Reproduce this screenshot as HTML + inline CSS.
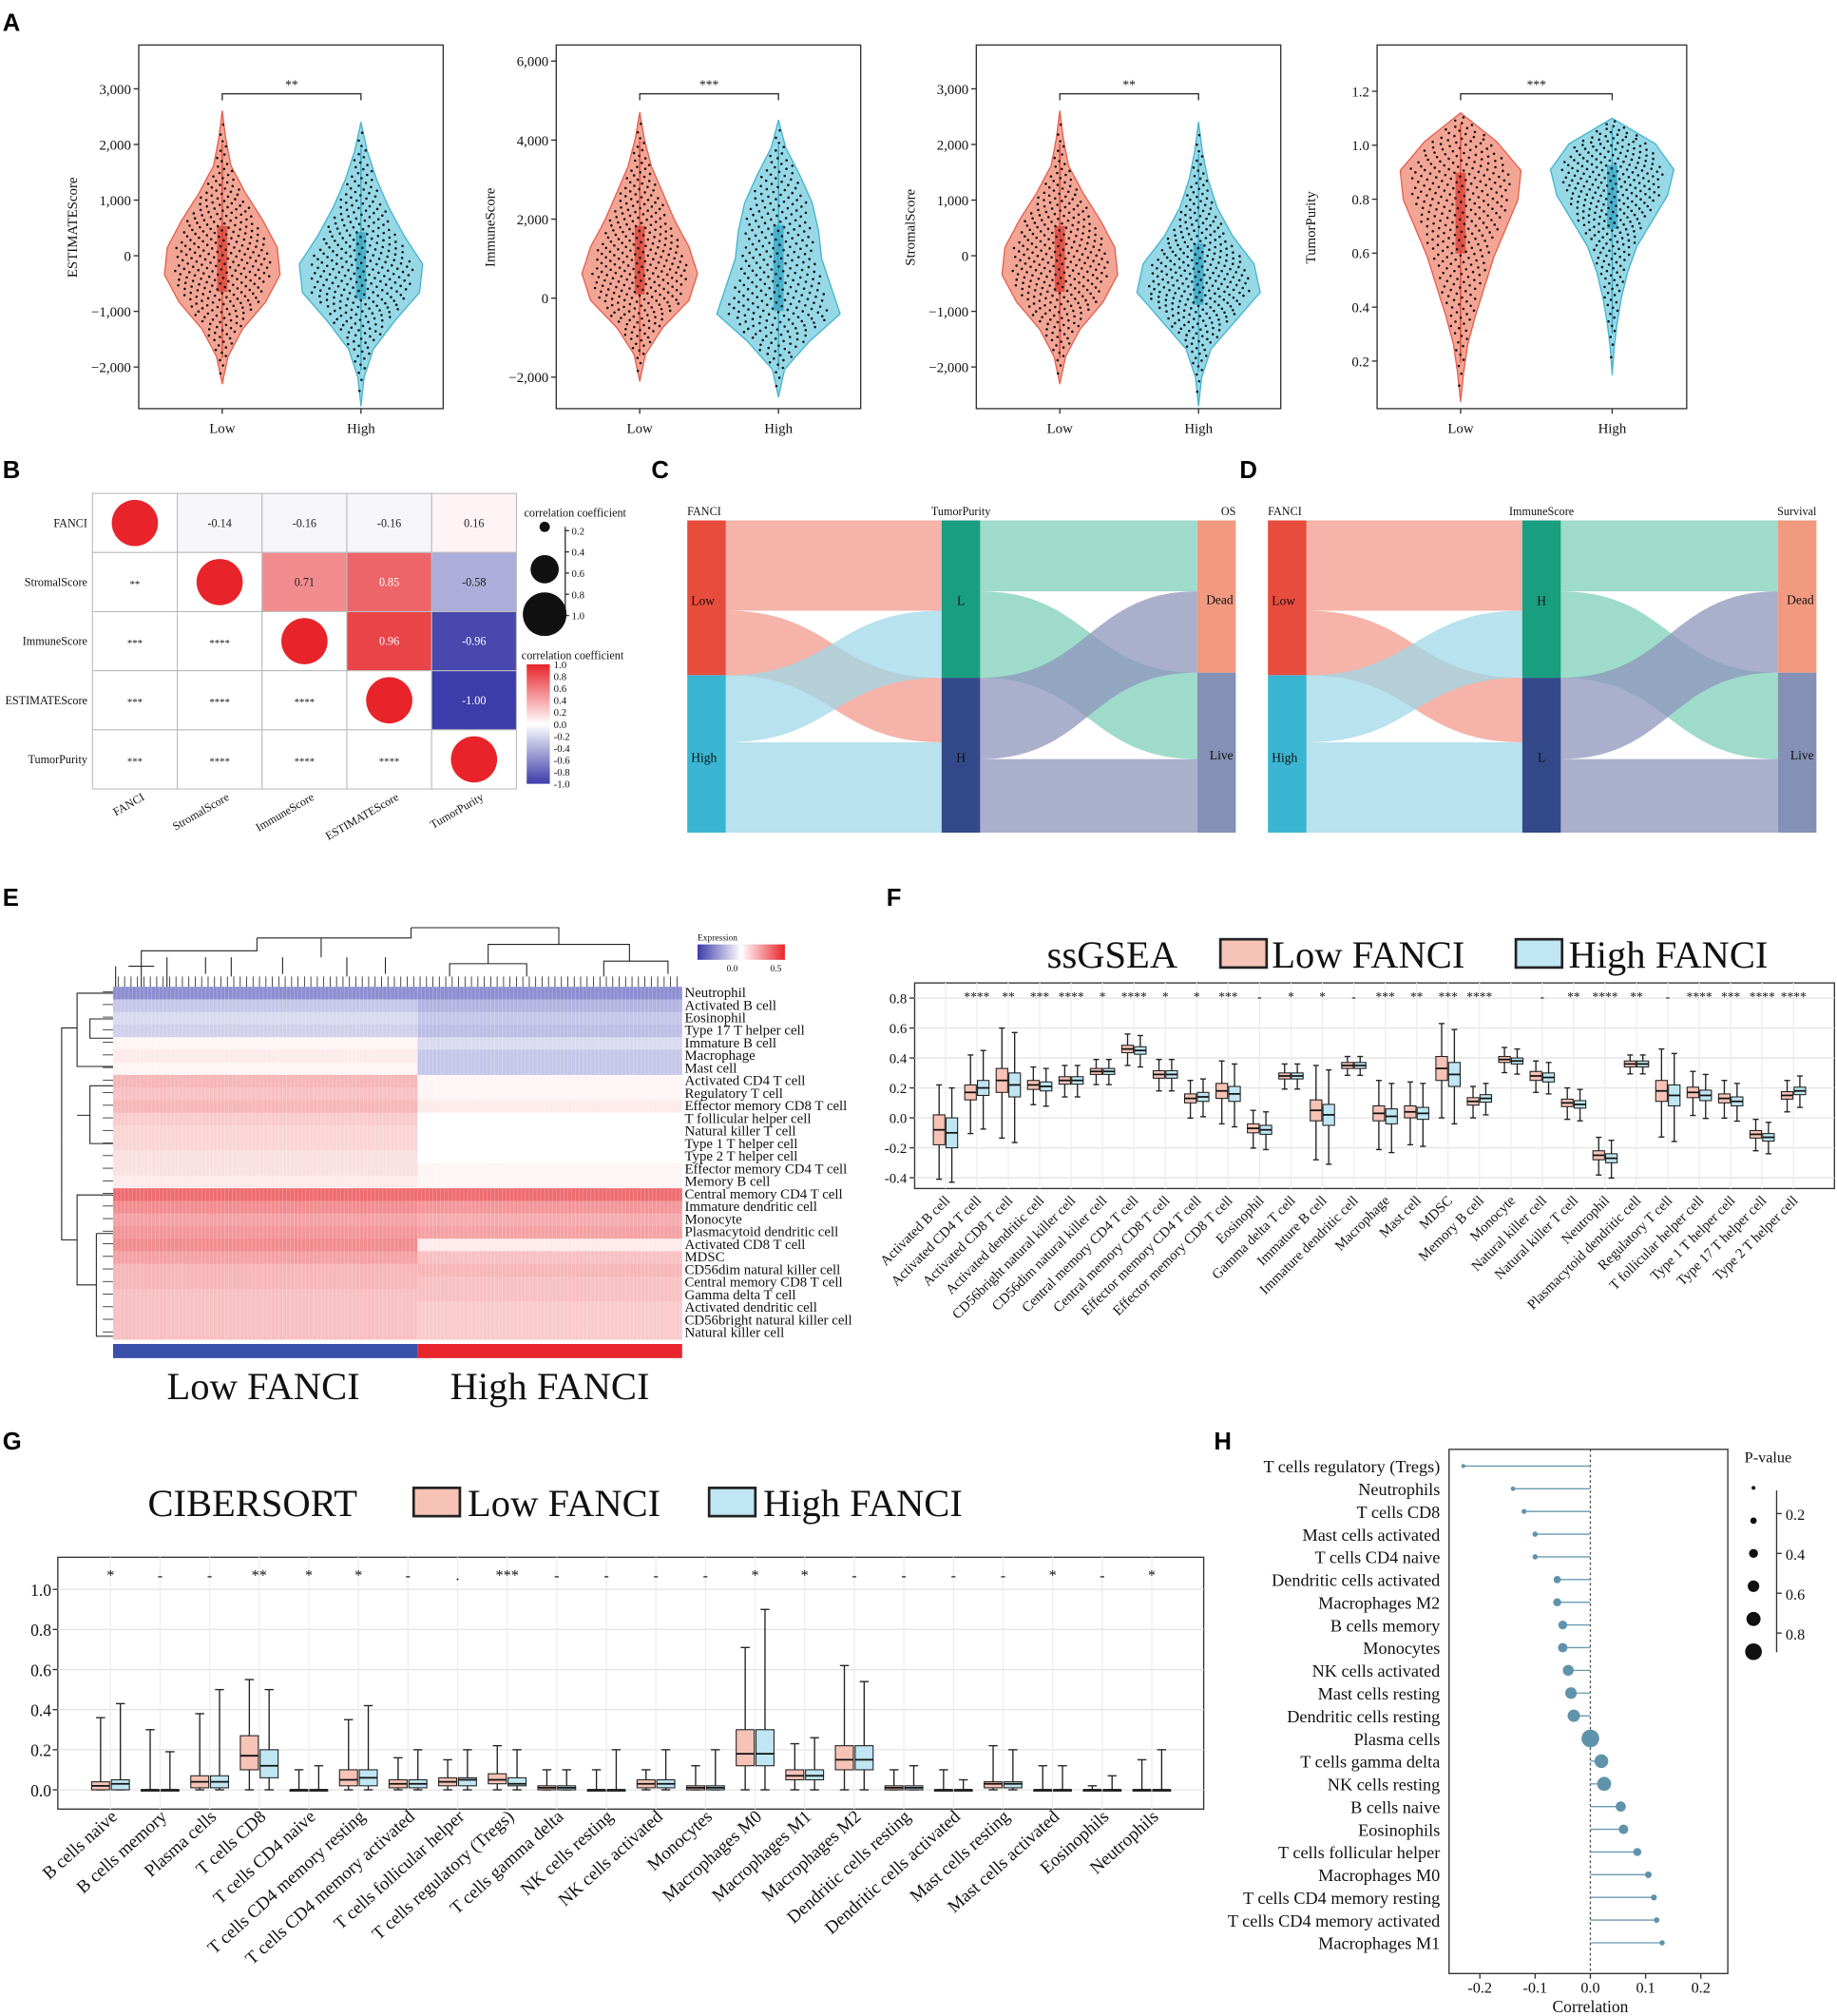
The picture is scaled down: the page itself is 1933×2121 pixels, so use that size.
<!DOCTYPE html>
<html><head><meta charset="utf-8"><style>
html,body{margin:0;padding:0;background:#fff}
svg{display:block;font-family:"Liberation Serif",serif}
.lt{font-family:"Liberation Sans",sans-serif;font-weight:bold;font-size:19px}
</style></head><body>
<svg id="fig" xmlns="http://www.w3.org/2000/svg" width="1933" height="2121" viewBox="0 0 1430 1569">
<text class="lt" x="2" y="24">A</text>
<text class="lt" x="2" y="372">B</text>
<text class="lt" x="507" y="372">C</text>
<text class="lt" x="965" y="372">D</text>
<text class="lt" x="2" y="705">E</text>
<text class="lt" x="690" y="705">F</text>
<text class="lt" x="2" y="1128">G</text>
<text class="lt" x="945" y="1128">H</text>
</svg>
<script>
// ---------- data ----------
const violinPanels = ["ESTIMATEScore","ImmuneScore","StromalScore","TumorPurity"];
const violinTicks1 = [3000,2000,1000,0,-1000,-2000];
const violinTicks2 = [6000,4000,2000,0,-2000];
const violinTicks4 = [1.2,1.0,0.8,0.6,0.4,0.2];
const violinStars = ["**","***","**","***"];
const vLowRange = [[-2300,2600],[-2100,4700],[-2300,2600],[0.05,1.12]];
const vHighRange = [[-2700,2400],[-2500,4500],[-2700,2400],[0.15,1.1]];
const vLowDens = [[0,0.1,0.35,0.75,1,0.95,0.7,0.4,0.15,0.06,0],[0,0.1,0.4,0.85,1,0.85,0.6,0.4,0.2,0.08,0],[0,0.1,0.35,0.75,1,0.95,0.7,0.4,0.15,0.06,0],[0,0.05,0.12,0.25,0.4,0.55,0.75,0.95,1,0.6,0]];
const vHighDens = [[0,0.05,0.2,0.55,0.95,1,0.7,0.45,0.25,0.1,0],[0,0.1,0.5,1,0.85,0.7,0.65,0.55,0.35,0.12,0],[0,0.05,0.2,0.6,1,0.9,0.55,0.3,0.15,0.06,0],[0,0.03,0.08,0.15,0.25,0.4,0.65,0.9,1,0.7,0]];

const corrNames = ["FANCI","StromalScore","ImmuneScore","ESTIMATEScore","TumorPurity"];
const corrVals = [[1,-0.14,-0.16,-0.16,0.16],[-0.14,1,0.71,0.85,-0.58],[-0.16,0.71,1,0.96,-0.96],[-0.16,0.85,0.96,1,-1.00],[0.16,-0.58,-0.96,-1.00,1]];
const corrStars = [["","","","",""],["**","","","",""],["***","****","","",""],["***","****","****","",""],["***","****","****","****",""]];

const sankeyFlowsA = [70,50,52,70];   // Low->L, Low->H, High->L, High->H
const sankeyFlowsB = [55,67,63,57];   // L->Dead, L->Live, H->Dead, H->Live

const heatRows = ["Neutrophil","Activated B cell","Eosinophil","Type 17 T helper cell","Immature B cell","Macrophage","Mast cell","Activated CD4 T cell","Regulatory T cell","Effector memory CD8 T cell","T follicular helper cell","Natural killer T cell","Type 1 T helper cell","Type 2 T helper cell","Effector memory CD4 T cell","Memory B cell","Central memory CD4 T cell","Immature dendritic cell","Monocyte","Plasmacytoid dendritic cell","Activated CD8 T cell","MDSC","CD56dim natural killer cell","Central memory CD8 T cell","Gamma delta T cell","Activated dendritic cell","CD56bright natural killer cell","Natural killer cell"];
const heatLow = [-0.6,-0.3,-0.2,-0.25,0.05,0.1,0.05,0.35,0.3,0.35,0.25,0.2,0.2,0.15,0.15,0.1,0.7,0.55,0.45,0.5,0.55,0.45,0.35,0.35,0.3,0.3,0.3,0.3];
const heatHigh = [-0.6,-0.4,-0.3,-0.35,-0.2,-0.3,-0.3,0.05,0.05,0.1,0,0,0,0,0.05,0.05,0.7,0.5,0.4,0.45,0.1,0.3,0.35,0.3,0.3,0.25,0.25,0.25];

const ssCats = ["Activated B cell","Activated CD4 T cell","Activated CD8 T cell","Activated dendritic cell","CD56bright natural killer cell","CD56dim natural killer cell","Central memory CD4 T cell","Central memory CD8 T cell","Effector memory CD4 T cell","Effector memory CD8 T cell","Eosinophil","Gamma delta T cell","Immature B cell","Immature dendritic cell","Macrophage","Mast cell","MDSC","Memory B cell","Monocyte","Natural killer cell","Natural killer T cell","Neutrophil","Plasmacytoid dendritic cell","Regulatory T cell","T follicular helper cell","Type 1 T helper cell","Type 17 T helper cell","Type 2 T helper cell"];
const ssLowMed = [-0.08,0.17,0.25,0.22,0.25,0.31,0.46,0.29,0.13,0.18,-0.07,0.28,0.05,0.35,0.03,0.04,0.33,0.11,0.39,0.28,0.10,-0.25,0.36,0.18,0.17,0.13,-0.11,0.15];
const ssHighMed = [-0.10,0.20,0.22,0.21,0.25,0.31,0.45,0.29,0.14,0.16,-0.08,0.28,0.02,0.35,0.01,0.03,0.29,0.13,0.38,0.27,0.09,-0.27,0.36,0.15,0.15,0.11,-0.13,0.18];
const ssIqr = [0.2,0.1,0.16,0.06,0.05,0.04,0.05,0.05,0.06,0.1,0.06,0.04,0.14,0.04,0.1,0.08,0.16,0.05,0.04,0.06,0.05,0.06,0.04,0.14,0.07,0.06,0.05,0.05];
const ssWhisk = [0.3,0.25,0.35,0.12,0.1,0.08,0.1,0.1,0.12,0.2,0.12,0.08,0.3,0.06,0.22,0.2,0.3,0.1,0.08,0.1,0.1,0.12,0.06,0.28,0.14,0.12,0.1,0.1];
const ssStars = ["","****","**","***","****","*","****","*","*","***","-","*","*","-","***","**","***","****","","-","**","****","**","-","****","***","****","****"];
const ssTicks = [0.8,0.6,0.4,0.2,0.0,-0.2,-0.4];

const ciCats = ["B cells naive","B cells memory","Plasma cells","T cells CD8","T cells CD4 naive","T cells CD4 memory resting","T cells CD4 memory activated","T cells follicular helper","T cells regulatory (Tregs)","T cells gamma delta","NK cells resting","NK cells activated","Monocytes","Macrophages M0","Macrophages M1","Macrophages M2","Dendritic cells resting","Dendritic cells activated","Mast cells resting","Mast cells activated","Eosinophils","Neutrophils"];
const ciLowMed = [0.02,0,0.04,0.17,0,0.05,0.03,0.04,0.05,0.01,0,0.03,0.01,0.18,0.07,0.15,0.01,0,0.03,0,0,0];
const ciHighMed = [0.03,0,0.04,0.12,0,0.06,0.03,0.05,0.03,0.01,0,0.03,0.01,0.18,0.07,0.15,0.01,0,0.03,0,0,0];
const ciLowQ1 = [0,0,0.01,0.1,0,0.02,0.01,0.02,0.03,0,0,0.01,0,0.12,0.05,0.1,0,0,0.01,0,0,0];
const ciHighQ1 = [0,0,0.01,0.06,0,0.02,0.01,0.02,0.02,0,0,0.01,0,0.12,0.05,0.1,0,0,0.01,0,0,0];
const ciLowQ3 = [0.04,0,0.07,0.27,0,0.1,0.05,0.06,0.08,0.02,0,0.05,0.02,0.3,0.1,0.22,0.02,0,0.04,0,0,0];
const ciHighQ3 = [0.05,0,0.07,0.2,0,0.1,0.05,0.06,0.06,0.02,0,0.05,0.02,0.3,0.1,0.22,0.02,0,0.04,0,0,0];
const ciLowMax = [0.36,0.3,0.38,0.55,0.1,0.35,0.16,0.15,0.22,0.1,0.1,0.1,0.12,0.71,0.23,0.62,0.1,0.1,0.22,0.12,0.02,0.15];
const ciHighMax = [0.43,0.19,0.5,0.5,0.12,0.42,0.2,0.2,0.2,0.1,0.2,0.2,0.2,0.9,0.26,0.54,0.12,0.05,0.2,0.12,0.07,0.2];
const ciStars = ["*","-","-","**","*","*","-",".","***","-","-","-","-","*","*","-","-","-","-","*","-","*"];
const ciTicks = [1.0,0.8,0.6,0.4,0.2,0.0];

const hCats = ["T cells regulatory (Tregs)","Neutrophils","T cells CD8","Mast cells activated","T cells CD4 naive","Dendritic cells activated","Macrophages M2","B cells memory","Monocytes","NK cells activated","Mast cells resting","Dendritic cells resting","Plasma cells","T cells gamma delta","NK cells resting","B cells naive","Eosinophils","T cells follicular helper","Macrophages M0","T cells CD4 memory resting","T cells CD4 memory activated","Macrophages M1"];
const hCorr = [-0.23,-0.14,-0.12,-0.10,-0.10,-0.06,-0.06,-0.05,-0.05,-0.04,-0.035,-0.03,0.0,0.02,0.025,0.055,0.06,0.085,0.105,0.115,0.12,0.13];
const hP = [0.02,0.05,0.08,0.1,0.1,0.25,0.3,0.35,0.4,0.5,0.55,0.6,0.98,0.7,0.72,0.45,0.4,0.3,0.2,0.15,0.12,0.1];
const hTicks = [-0.2,-0.1,0.0,0.1,0.2];

// ---------- helpers ----------
const svg = document.getElementById('fig');
const NS = "http://www.w3.org/2000/svg";
function mk(tag, at, par){const e=document.createElementNS(NS,tag);for(const k in at)e.setAttribute(k,at[k]);(par||svg).appendChild(e);return e;}
function txt(s,x,y,sz,anchor,par,extra){const t=mk('text',Object.assign({x:x,y:y,'font-size':sz,'text-anchor':anchor||'start',fill:'#111'},extra||{}),par);t.textContent=s;return t;}
function fmt(v){return v.toLocaleString('en-US');}

// ---------- Panel A: violins ----------
const vBoxes = [[108,345],[433,670],[760,997],[1072,1313]];
function vScale(p,v){ if(p===1) return 232 - v/2000*61.5; if(p===3) return 113-(v-1)*210; return 199 - v/1000*43.3; }
function drawViolin(p, cx, range, dens, hw, fill, stroke, boxc, grp, side){
  const n=dens.length, step=(range[1]-range[0])/(n-1);
  const g=mk('g',{},grp);
  
  
  const fine=60;
  const dAt=v=>{const f=(v-range[0])/step;const i=Math.max(0,Math.min(n-2,Math.floor(f)));const t=f-i;return dens[i]*(1-t)+dens[i+1]*t;};
  const R=[],L=[];
  for(let k=0;k<=fine;k++){const v=range[0]+(range[1]-range[0])*k/fine;const y=vScale(p,v);const w=dAt(v)*hw;R.push((cx+w).toFixed(1)+','+y.toFixed(1));L.unshift((cx-w).toFixed(1)+','+y.toFixed(1));}
  mk('polygon',{points:R.concat(L).join(' '),fill:fill,stroke:stroke,'stroke-width':1,'stroke-linejoin':'round'},g);
  const cum=[0];for(let k=1;k<=fine;k++){const v0=range[0]+(range[1]-range[0])*(k-1)/fine,v1=range[0]+(range[1]-range[0])*k/fine;cum.push(cum[k-1]+(dAt(v0)+dAt(v1))/2);}
  const tot=cum[fine];
  const q=u=>{const t=u*tot;let k=1;while(k<fine&&cum[k]<t)k++;const a=(t-cum[k-1])/((cum[k]-cum[k-1])||1);return range[0]+(range[1]-range[0])*(k-1+a)/fine;};
  const q1=q(0.25),q3=q(0.75);
  mk('line',{x1:cx,x2:cx,y1:vScale(p,q(0.01)),y2:vScale(p,q(0.99)),stroke:boxc,'stroke-width':1},g);
  mk('rect',{x:cx-4,y:vScale(p,q3),width:8,height:vScale(p,q1)-vScale(p,q3),fill:boxc,opacity:0.8},g);
  const np=300;const pg=mk('g',{fill:'#111'},g);
  for(let i=0;i<np;i++){const v=q((i+0.5)/np);const w=dAt(v)*hw*0.85;const fr=((i*0.618034)%1)*2-1;mk('circle',{cx:(cx+fr*w).toFixed(1),cy:vScale(p,v).toFixed(1),r:0.95},pg);}
}
violinPanels.forEach((name,p)=>{
  const g=mk('g',{});
  
  
  const [x0,x1]=vBoxes[p];
  mk('rect',{x:x0,y:35,width:x1-x0,height:283,fill:'none',stroke:'#333','stroke-width':1},g);
  const ticks=p===1?violinTicks2:(p===3?violinTicks4:violinTicks1);
  ticks.forEach(t=>{const y=vScale(p,t);mk('line',{x1:x0-4,x2:x0,y1:y,y2:y,stroke:'#333'},g);txt(p===3?t.toFixed(1):fmt(t).replace('-','−'),x0-6,y+4,11,'end',g);});
  const cl=x0+65,ch=x1-64+(p===3?6:0);
  mk('line',{x1:cl,x2:cl,y1:318,y2:322,stroke:'#333'},g);mk('line',{x1:ch,x2:ch,y1:318,y2:322,stroke:'#333'},g);
  txt('Low',cl,337,11,'middle',g);txt('High',ch,337,11,'middle',g);
  txt(name,x0-48,177,11,'middle',g,{transform:'rotate(-90 '+(x0-48)+' 177)'});
  drawViolin(p,cl,vLowRange[p],vLowDens[p],p===3?47:45,'#f3a595','#e5604f','#d9453a',g,'low');
  drawViolin(p,ch,vHighRange[p],vHighDens[p],p===3?48:48,'#97d8e6','#44b5cf','#3aa7c4',g,'high');
  mk('path',{d:`M${cl},78 V73 H${ch} V78`,fill:'none',stroke:'#333'},g);
  txt(violinStars[p],(cl+ch)/2,69,10,'middle',g);
});

// ---------- Panel B: correlation matrix ----------
(function(){
  const g=mk('g',{});
  
  
  const X0=72,Y0=384,CW=66,CH=46;
  function col(v){const a=Math.pow(Math.abs(v),1.6);if(v>=0){return `rgb(${Math.round(255-a*23)},${Math.round(255-a*200)},${Math.round(255-a*195)})`;}return `rgb(${Math.round(255-a*195)},${Math.round(255-a*195)},${Math.round(255-a*85)})`;}
  for(let i=0;i<5;i++)for(let j=0;j<5;j++){
    const x=X0+CW*j,y=Y0+CH*i;
    mk('rect',{x:x,y:y,width:CW,height:CH,fill:j>i?col(corrVals[i][j]):'#fff',stroke:'#bbb','stroke-width':0.8},g);
    if(i===j){mk('circle',{cx:x+CW/2,cy:y+CH/2,r:18,fill:'#e8242a'},g);}
    else if(j>i){txt(corrVals[i][j].toFixed(2),x+CW/2,y+CH/2+3,9,'middle',g,{fill:Math.abs(corrVals[i][j])>0.8?'#fff':'#222'});}
    else txt(corrStars[i][j],x+CW/2,y+CH/2+4,8,'middle',g);
  }
  corrNames.forEach((n,i)=>{txt(n,X0-4,Y0+CH*i+CH/2+3,9,'end',g);const cx=X0+CW*i+CW/2+8;txt(n,cx,622,9,'end',g,{transform:`rotate(-30 ${cx} 622)`});});
  txt('correlation coefficient',408,402,9,'start',g);
  mk('line',{x1:440,x2:440,y1:410,y2:480,stroke:'#333'},g);
  [0.2,0.4,0.6,0.8,1.0].forEach((v,k)=>{const y=413+k*16.5;mk('line',{x1:440,x2:443,y1:y,y2:y,stroke:'#333'},g);txt(v.toFixed(1),445,y+3,8,'start',g);});
  mk('circle',{cx:424,cy:410,r:4,fill:'#111'},g);mk('circle',{cx:424,cy:443,r:11,fill:'#111'},g);mk('circle',{cx:424,cy:478,r:17,fill:'#111'},g);
  txt('correlation coefficient',406,513,9,'start',g);
  const gr=mk('linearGradient',{id:'cbar',x1:0,y1:0,x2:0,y2:1},svg);
  [['0','#e8242a'],['0.5','#ffffff'],['1','#3c3caa']].forEach(s=>mk('stop',{offset:s[0],'stop-color':s[1]},gr));
  mk('rect',{x:410,y:517,width:18,height:93,fill:'url(#cbar)'},g);
  [1,0.8,0.6,0.4,0.2,0,-0.2,-0.4,-0.6,-0.8,-1].forEach((v,k)=>{const y=517+k*9.3;txt(v.toFixed(1),431,y+3,8,'start',g);});
})();

// ---------- Panels C/D: sankey ----------
function sankey(X0,labels,midColors,name){
  const g=mk('g',{});
  
  
  const top=405,H=243,nw=30,W=427;
  const xm=X0+198,xr=X0+W-nw;
  const fa=sankeyFlowsA,fb=sankeyFlowsB;
  const tot=fa.reduce((a,b)=>a+b,0);const k=H/tot;
  const lowT=fa[0]+fa[1],LT=fa[0]+fa[2],deadT=fb[0]+fb[2];
  function band(xa,ya0,ya1,xb,yb0,yb1,fill){const m=(xa+xb)/2;mk('path',{d:`M${xa},${ya0} C${m},${ya0} ${m},${yb0} ${xb},${yb0} L${xb},${yb1} C${m},${yb1} ${m},${ya1} ${xa},${ya1} Z`,fill:fill,opacity:0.75},g);}
  const L_low0=top, L_high0=top+lowT*k, M_L0=top, M_H0=top+LT*k;
  band(X0+nw,L_low0,L_low0+fa[0]*k,xm,M_L0,M_L0+fa[0]*k,'#f19a8c');
  band(X0+nw,L_low0+fa[0]*k,L_high0,xm,M_H0,M_H0+fa[1]*k,'#f19a8c');
  band(X0+nw,L_high0,L_high0+fa[2]*k,xm,M_L0+fa[0]*k,M_H0,'#9fd8e8');
  band(X0+nw,L_high0+fa[2]*k,top+H,xm,M_H0+fa[1]*k,top+H,'#9fd8e8');
  const R_d0=top,R_l0=top+deadT*k;
  band(xm+nw,M_L0,M_L0+fb[0]*k,xr,R_d0,R_d0+fb[0]*k,'#7fcfb8');
  band(xm+nw,M_L0+fb[0]*k,M_H0,xr,R_l0,R_l0+fb[1]*k,'#7fcfb8');
  band(xm+nw,M_H0,M_H0+fb[2]*k,xr,R_d0+fb[0]*k,R_l0,'#8d96bb');
  band(xm+nw,M_H0+fb[2]*k,top+H,xr,R_l0+fb[1]*k,top+H,'#8d96bb');
  mk('rect',{x:X0,y:top,width:nw,height:lowT*k,fill:'#e84c3d'},g);
  mk('rect',{x:X0,y:L_high0,width:nw,height:H-lowT*k,fill:'#3ab5d2'},g);
  mk('rect',{x:xm,y:top,width:nw,height:LT*k,fill:midColors[0]},g);
  mk('rect',{x:xm,y:M_H0,width:nw,height:H-LT*k,fill:midColors[1]},g);
  mk('rect',{x:xr,y:top,width:nw,height:deadT*k,fill:'#f29a80'},g);
  mk('rect',{x:xr,y:R_l0,width:nw,height:H-deadT*k,fill:'#8490b5'},g);
  txt('FANCI',X0,401,9,'start',g);txt(labels[0],xm+15,401,9,'middle',g);txt(labels[1],X0+W,401,9,'end',g);
  txt('Low',X0+3,471,10,'start',g);txt('High',X0+3,593,10,'start',g);
  txt(labels[2],xm+15,471,10,'middle',g);txt(labels[3],xm+15,593,10,'middle',g);
  txt('Dead',xr+28,470,10,'end',g);txt('Live',xr+28,591,10,'end',g);
}
sankey(535,['TumorPurity','OS','L','H'],['#1a9e80','#34498a'],'sankey-tumorpurity');
sankey(987,['ImmuneScore','Survival','H','L'],['#1a9e80','#34498a'],'sankey-immunescore');

// ---------- Panel E: heatmap ----------
(function(){
  const g=mk('g',{});
  
  
  const X0=88,XS=325,X1=531,Y0=768,RH=9.8;
  function hc(v){const a=Math.min(1,Math.abs(v));if(v>=0)return `rgb(${Math.round(255-a*25)},${Math.round(255-a*210)},${Math.round(255-a*205)})`;return `rgb(${Math.round(255-a*190)},${Math.round(255-a*190)},${Math.round(255-a*75)})`;}
  heatRows.forEach((n,i)=>{const y=Y0+i*RH;
    mk('rect',{x:X0,y:y,width:XS-X0,height:RH+0.3,fill:hc(heatLow[i])},g);
    mk('rect',{x:XS,y:y,width:X1-XS,height:RH+0.3,fill:hc(heatHigh[i])},g);
    txt(n,533,y+8,11,'start',g);});
  for(let x=X0;x<X1;x+=3)mk('line',{x1:x,x2:x,y1:Y0,y2:Y0+RH*28,stroke:'#fff','stroke-width':0.6,opacity:0.25},g);
  mk('rect',{x:X0,y:1046,width:XS-X0,height:11,fill:'#3a4fa8'},g);
  mk('rect',{x:XS,y:1046,width:X1-XS,height:11,fill:'#e8242c'},g);
  txt('Low FANCI',205,1089,30,'middle',g);txt('High FANCI',428,1089,30,'middle',g);
  const dd='M90,768 V752 M110,768 V748 M100,752 H120 M130,768 V745 M110,748 V740 H200 V730 M200,730 H320 V722 M250,730 V745 M320,722 H435 V735 M435,735 H380 V750 M435,735 H490 V748 M380,750 H350 V760 M380,750 H410 V760 M490,748 H470 V760 M490,748 H520 V758 M160,745 V758 M180,745 V760 M220,745 V758 M270,745 V760 M300,745 V758';
  mk('path',{d:dd,fill:'none',stroke:'#222','stroke-width':0.8},g);
  for(let x=92;x<530;x+=5)mk('line',{x1:x,x2:x,y1:760,y2:768,stroke:'#222','stroke-width':0.6},g);
  mk('path',{d:'M88,773 H60 V830 H88 M88,793 H70 V808 H88 M60,800 H48 V965 H60 M60,965 V930 H88 M60,965 V1000 H75 M75,960 V1040 H88 M75,960 H88 M70,845 H88 M70,845 V890 H88 M70,868 H60',fill:'none',stroke:'#222','stroke-width':0.8},g);
  for(let y=772;y<1042;y+=9.8)mk('line',{x1:80,x2:88,y1:y,y2:y,stroke:'#222','stroke-width':0.6},g);
  txt('Expression',543,732,7,'start',g);
  const gr=mk('linearGradient',{id:'ebar'},svg);
  [['0','#3c3caa'],['0.5','#ffffff'],['1','#e8242a']].forEach(s=>mk('stop',{offset:s[0],'stop-color':s[1]},gr));
  mk('rect',{x:543,y:735,width:68,height:12,fill:'url(#ebar)'},g);
  txt('0.0',570,756,7,'middle',g);txt('0.5',604,756,7,'middle',g);
})();

// ---------- boxplot helper ----------
function boxes(g,cats,xOf,yOf,lowStats,highStats,bw){
  cats.forEach((c,i)=>{
    [[lowStats,-1,'#f7c3b6'],[highStats,1,'#bfe6f2']].forEach(([st,sd,fill])=>{
      const s=st(i),cx=xOf(i)+sd*bw*0.55;
      mk('line',{x1:cx,x2:cx,y1:yOf(s[0]),y2:yOf(s[4]),stroke:'#222','stroke-width':1},g);
      mk('line',{x1:cx-bw*0.25,x2:cx+bw*0.25,y1:yOf(s[4]),y2:yOf(s[4]),stroke:'#222'},g);
      mk('line',{x1:cx-bw*0.25,x2:cx+bw*0.25,y1:yOf(s[0]),y2:yOf(s[0]),stroke:'#222'},g);
      mk('rect',{x:cx-bw/2,y:yOf(s[3]),width:bw,height:Math.max(1,yOf(s[1])-yOf(s[3])),fill:fill,stroke:'#222','stroke-width':0.8},g);
      mk('line',{x1:cx-bw/2,x2:cx+bw/2,y1:yOf(s[2]),y2:yOf(s[2]),stroke:'#111','stroke-width':1.3},g);
    });
  });
}
function legendBig(g,x,y,title,b1,t1,b2,t2){txt(title,x,y,30,'start',g);
  mk('rect',{x:b1,y:y-22,width:36,height:22,fill:'#f7c3b6',stroke:'#222','stroke-width':2},g);txt('Low FANCI',t1,y,30,'start',g);
  mk('rect',{x:b2,y:y-22,width:36,height:22,fill:'#bfe6f2',stroke:'#222','stroke-width':2},g);txt('High FANCI',t2,y,30,'start',g);}

// ---------- Panel F: ssGSEA ----------
(function(){
  const g=mk('g',{});
  
  
  const X0=712,X1=1428,Y0=765,Y1=925;
  const yOf=v=>870-v*116.5, xOf=i=>736+i*24.45;
  mk('rect',{x:X0,y:Y0,width:X1-X0,height:Y1-Y0,fill:'none',stroke:'#333'},g);
  ssTicks.forEach(t=>{const y=yOf(t);mk('line',{x1:X0,x2:X1,y1:y,y2:y,stroke:'#e4e4e4'},g);mk('line',{x1:X0-4,x2:X0,y1:y,y2:y,stroke:'#333'},g);txt(t.toFixed(1),X0-6,y+4,11,'end',g);});
  ssCats.forEach((c,i)=>mk('line',{x1:xOf(i),x2:xOf(i),y1:Y0,y2:Y1,stroke:'#eee'},g));
  boxes(g,ssCats,xOf,yOf,i=>[ssLowMed[i]-ssWhisk[i]*1.1,ssLowMed[i]-ssIqr[i]/2,ssLowMed[i],ssLowMed[i]+ssIqr[i]/2,ssLowMed[i]+ssWhisk[i]],i=>[ssHighMed[i]-ssWhisk[i]*1.1,ssHighMed[i]-ssIqr[i]/2,ssHighMed[i],ssHighMed[i]+ssIqr[i]/2,ssHighMed[i]+ssWhisk[i]],9);
  ssCats.forEach((c,i)=>{txt(ssStars[i],xOf(i),779,10,'middle',g);const x=xOf(i)+4;txt(c,x,935,11,'end',g,{transform:`rotate(-45 ${x} 935)`});});
  legendBig(g,815,753,'ssGSEA',950,990,1180,1221);
})();

// ---------- Panel G: CIBERSORT ----------
(function(){
  const g=mk('g',{});
  
  
  const X0=45,X1=937,Y0=1212,Y1=1408;
  const yOf=v=>1393-v*156, xOf=i=>86+i*38.6;
  mk('rect',{x:X0,y:Y0,width:X1-X0,height:Y1-Y0,fill:'none',stroke:'#333'},g);
  ciTicks.forEach(t=>{const y=yOf(t);mk('line',{x1:X0,x2:X1,y1:y,y2:y,stroke:'#e4e4e4'},g);mk('line',{x1:X0-4,x2:X0,y1:y,y2:y,stroke:'#333'},g);txt(t.toFixed(1),X0-5,y+5,13,'end',g);});
  ciCats.forEach((c,i)=>mk('line',{x1:xOf(i),x2:xOf(i),y1:Y0,y2:Y1,stroke:'#eee'},g));
  boxes(g,ciCats,xOf,yOf,i=>[0,ciLowQ1[i],ciLowMed[i],ciLowQ3[i],ciLowMax[i]],i=>[0,ciHighQ1[i],ciHighMed[i],ciHighQ3[i],ciHighMax[i]],14);
  ciCats.forEach((c,i)=>{txt(ciStars[i],xOf(i),1230,12,'middle',g);const x=xOf(i)+6;txt(c,x,1415,14,'end',g,{transform:`rotate(-42 ${x} 1415)`});});
  legendBig(g,115,1180,'CIBERSORT',322,364,552,594);
})();

// ---------- Panel H: lollipop ----------
(function(){
  const g=mk('g',{});
  
  
  const X0=1128,X1=1345,Y0=1128,Y1=1536;
  const xOf=v=>1238+v*430, yOf=i=>1141+i*17.67;
  mk('rect',{x:X0,y:Y0,width:X1-X0,height:Y1-Y0,fill:'none',stroke:'#333'},g);
  mk('line',{x1:xOf(0),x2:xOf(0),y1:Y0,y2:Y1,stroke:'#555','stroke-dasharray':'2,2'},g);
  hTicks.forEach(t=>{const x=xOf(t);mk('line',{x1:x,x2:x,y1:Y1,y2:Y1+4,stroke:'#333'},g);txt(t.toFixed(1),x,Y1+15,12,'middle',g);});
  txt('Correlation',xOf(0),1566,13,'middle',g);
  hCats.forEach((c,i)=>{const y=yOf(i);
    mk('line',{x1:xOf(0),x2:xOf(hCorr[i]),y1:y,y2:y,stroke:'#6a9ab0','stroke-width':1},g);
    mk('circle',{cx:xOf(hCorr[i]),cy:y,r:1.5+hP[i]*5.5,fill:'#5f93ab'},g);
    txt(c,1121,y+5,13.5,'end',g);});
  txt('P-value',1358,1138,12,'start',g);
  mk('line',{x1:1383,x2:1383,y1:1160,y2:1286,stroke:'#333'},g);
  [0.2,0.4,0.6,0.8].forEach((v,k)=>{const y=1178+k*31;mk('line',{x1:1383,x2:1387,y1:y,y2:y,stroke:'#333'},g);txt(v.toFixed(1),1390,y+5,12,'start',g);});
  [1.5,2.5,3.5,4.5,5.5,6.5].forEach((r,k)=>mk('circle',{cx:1365,cy:1158+k*25.5,r:r,fill:'#111'},g));
})();
</script>
</body></html>
